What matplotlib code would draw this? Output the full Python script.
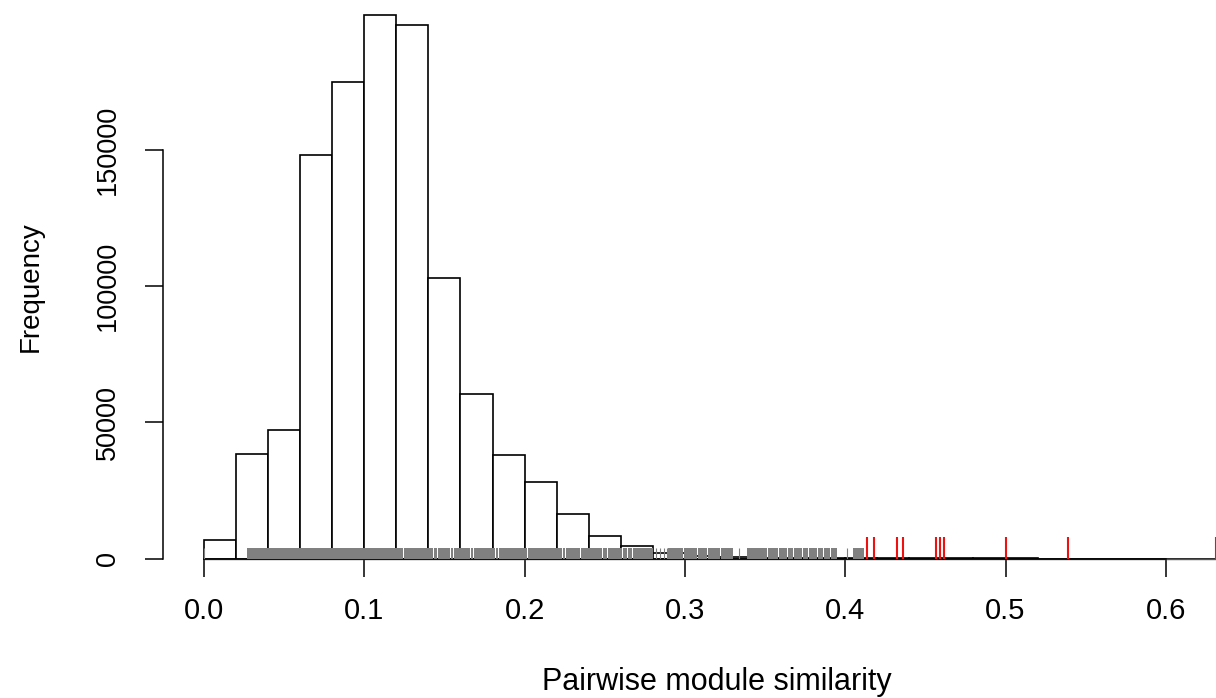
import matplotlib
matplotlib.use("Agg")
import matplotlib.pyplot as plt
import numpy as np

plt.rcParams['font.family'] = ['Liberation Sans', 'DejaVu Sans']

# histogram: bins of width 0.02 from 0 to 0.64
bin_edges = np.arange(0, 0.6401, 0.02)
counts = [6800, 38400, 47200, 148200, 175000, 199400, 195900, 103000,
          60400, 38000, 28100, 16300, 8400, 4700, 2000, 1100,
          600, 350, 200, 120, 60, 30, 15, 8,
          4, 2, 0, 0, 0, 0, 0, 0]

# grey rug: solid runs (start, end) and single ticks
grey_runs = [(0.0266, 0.1243), (0.1249, 0.1430), (0.1436, 0.1451), (0.1457, 0.1535),
             (0.1541, 0.1556), (0.1562, 0.1659), (0.1665, 0.1680), (0.1686, 0.1815),
             (0.1821, 0.1836), (0.1842, 0.2014), (0.2020, 0.2232), (0.2238, 0.2252),
             (0.2258, 0.2346), (0.2352, 0.2481), (0.2487, 0.2512), (0.2518, 0.2605),
             (0.2611, 0.2637), (0.2643, 0.2668), (0.2674, 0.2803), (0.2897, 0.2990),
             (0.2996, 0.3077), (0.3083, 0.3140), (0.3146, 0.3219), (0.3225, 0.3302),
             (0.3386, 0.3510), (0.3516, 0.3583), (0.3589, 0.3635), (0.3641, 0.3676),
             (0.3682, 0.3729), (0.3735, 0.3770), (0.3776, 0.3822), (0.3828, 0.3864),
             (0.3870, 0.3905), (0.3911, 0.3947), (0.4049, 0.4117)]
grey_ticks = [0.0, 0.2822, 0.2845, 0.2870, 0.2890, 0.3340, 0.4009]

# red rug
red_ticks = [0.4138, 0.4180, 0.4325, 0.4362, 0.4565, 0.4591, 0.4618,
             0.5001, 0.5388, 0.6311]

xticks = [0.0, 0.1, 0.2, 0.3, 0.4, 0.5, 0.6]
yticks = [0, 50000, 100000, 150000]

W, H = 1216, 698
fig = plt.figure(figsize=(W/100.0, H/100.0), dpi=100)
ax = fig.add_axes([163.0/W, (H-558.5)/H, (W-163.0)/W, 558.5/H])

widths = np.diff(bin_edges)
ax.bar(bin_edges[:-1], counts, width=widths, align='edge', color='white',
       edgecolor='black', linewidth=1.2, clip_on=False, zorder=2)
# bottoms of the empty bins
ax.plot([bin_edges[0], bin_edges[-1]], [0, 0], color='#555555', linewidth=1.0,
        clip_on=False, zorder=2)

tr = ax.get_xaxis_transform()
ax.broken_barh([(a, b - a) for a, b in grey_runs], (0, 0.0188), transform=tr,
               facecolors='#808080', edgecolor='none', zorder=3)
ax.vlines(grey_ticks, 0, 0.0188, transform=tr, colors='#808080', linewidth=0.8, zorder=3)
ax.vlines(red_ticks, 0, 0.0385, transform=tr, colors='#ee1111', linewidth=1.5, zorder=4)

ax.set_xlim(-0.02558, 0.6313)
ax.set_ylim(0, 205082)

for s in ['top', 'right']:
    ax.spines[s].set_visible(False)
ax.spines['left'].set_bounds(0, 150000)
ax.spines['bottom'].set_bounds(0, 0.6)
ax.spines['left'].set_linewidth(1.1)
ax.spines['bottom'].set_linewidth(1.1)
ax.spines['bottom'].set_zorder(2.5)

ax.set_xticks(xticks)
ax.set_xticklabels(['%.1f' % v for v in xticks])
ax.set_yticks(yticks)
ax.set_yticklabels([str(v) for v in yticks], rotation=90, va='center')
ax.tick_params(axis='both', direction='out', length=13, width=1.1)
ax.tick_params(axis='x', labelsize=21, pad=15)
ax.tick_params(axis='y', labelsize=19.5, pad=17)

fig.text(717.0/W, 1 - 690.0/H, 'Pairwise module similarity', fontsize=22,
         ha='center', va='baseline')
fig.text(31.0/W, 1 - 287.0/H, 'Frequency', fontsize=20, rotation=90,
         ha='center', va='center')

fig.savefig('out.png', dpi=100)
